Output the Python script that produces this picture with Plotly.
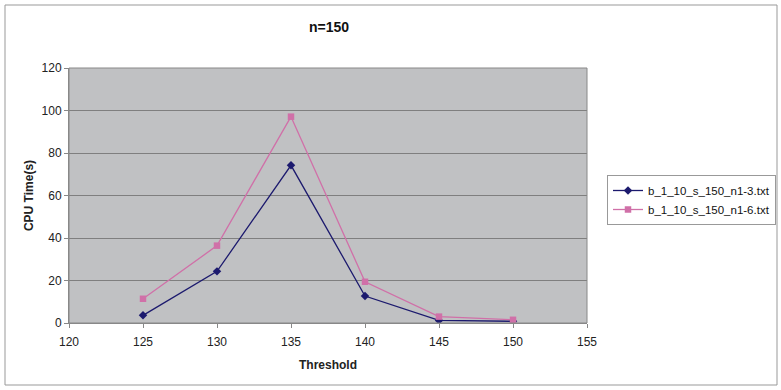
import plotly.graph_objects as go

thresholds = [125, 130, 135, 140, 145, 150]
series_n1_3 = [3.6, 24.3, 74.2, 12.7, 1.2, 0.8]
series_n1_6 = [11.4, 36.4, 97.1, 19.4, 3.0, 1.5]
names = ["b_1_10_s_150_n1-3.txt", "b_1_10_s_150_n1-6.txt"]

W, H = 781, 390
L, R, T, B = 69, 194, 68, 67
pw, ph = W - L - R, H - T - B

def px_x(p):
    return (p - L) / pw

def px_y(p):
    return (H - B - p) / ph

fig = go.Figure()
fig.add_trace(go.Scatter(x=thresholds, y=series_n1_3, name=names[0], mode="lines+markers",
                         line=dict(color="#1c1a6e", width=1.3),
                         marker=dict(symbol="diamond", size=6.5, color="#1c1a6e")))
fig.add_trace(go.Scatter(x=thresholds, y=series_n1_6, name=names[1], mode="lines+markers",
                         line=dict(color="#d070a8", width=1.3),
                         marker=dict(symbol="square", size=6.5, color="#d070a8")))

font = "Liberation Sans, Arial, sans-serif"
fig.update_layout(
    width=W, height=H,
    margin=dict(l=L, r=R, t=T, b=B, autoexpand=False),
    paper_bgcolor="white",
    plot_bgcolor="#c0c1c3",
    font=dict(family=font, size=12, color="#222"),
    title=dict(text="<b>n=150</b>", x=392 / W, xanchor="center", xref="paper",
               y=1 - 27 / H, yanchor="middle", font=dict(size=14, family=font, color="#111")),
    showlegend=True,
    legend=dict(x=px_x(607), y=px_y(175), xanchor="left", yanchor="top",
                bgcolor="white", bordercolor="#999", borderwidth=1,
                font=dict(size=11.5, family=font, color="#111"), tracegroupgap=2,
                itemwidth=30),
    xaxis=dict(range=[120, 155], tickvals=[120, 125, 130, 135, 140, 145, 150, 155],
               showgrid=False, zeroline=False, showline=True, linecolor="#888", linewidth=1,
               ticks="outside", ticklen=4, tickcolor="#888", mirror=False,
               ticklabelstandoff=4,
               title=dict(text="<b>Threshold</b>", standoff=12, font=dict(size=12)),
               tickfont=dict(size=12, color="#222")),
    yaxis=dict(range=[0, 120], tickvals=[0, 20, 40, 60, 80, 100, 120],
               showgrid=True, gridcolor="#7f7f7f", gridwidth=1, zeroline=False,
               showline=True, linecolor="#888", linewidth=1,
               ticks="outside", ticklen=4, tickcolor="#888",
               title=dict(text="<b>CPU Time(s)</b>", standoff=5, font=dict(size=12)),
               tickfont=dict(size=12, color="#222")),
)

# outer chart border and plot area border
fig.add_shape(type="rect", xref="paper", yref="paper",
              x0=px_x(5), x1=px_x(777), y0=px_y(385), y1=px_y(5),
              line=dict(color="#999", width=1), layer="below")
fig.add_shape(type="rect", xref="paper", yref="paper", x0=0, x1=1, y0=0, y1=1,
              line=dict(color="#888", width=1), layer="above")

fig.write_html("out.html")
